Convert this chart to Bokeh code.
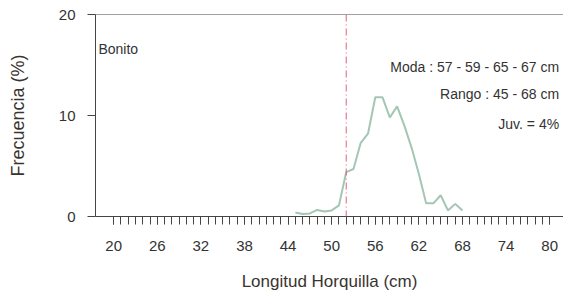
from bokeh.plotting import figure
from bokeh.models import Range1d, FixedTicker, Span, Label
from bokeh.embed import file_html
from bokeh.resources import INLINE

# ---- data ----
lengths = list(range(45, 69))
freq = [0.4, 0.25, 0.3, 0.65, 0.5, 0.6, 1.1, 4.4, 4.7, 7.3, 8.2, 11.8,
        11.8, 9.8, 10.9, 9.0, 6.8, 4.2, 1.3, 1.3, 2.1, 0.6, 1.25, 0.6]
x_ticks = list(range(20, 81, 6))
x_minor = list(range(20, 81))
y_ticks = [0, 10, 20]
juv_limit = 52
species = "Bonito"
notes = ["Moda : 57 - 59 - 65 - 67 cm", "Rango : 45 - 68 cm", "Juv. = 4%"]
note_y = [14.8, 12.15, 9.2]

FONT = "Liberation Sans"
TXT = "#333333"

p = figure(width=563, height=298, output_backend="svg", toolbar_location=None,
           x_range=Range1d(17.5, 81.9), y_range=Range1d(0, 20),
           min_border_left=95, min_border_right=0, min_border_top=14,
           min_border_bottom=82)
p.outline_line_color = None
p.xgrid.visible = False
p.ygrid.visible = False
p.background_fill_color = "white"
p.border_fill_color = "white"

# axes
xa = p.xaxis[0]
xa.ticker = FixedTicker(ticks=x_ticks, minor_ticks=x_minor)
xa.axis_label = "Longitud Horquilla (cm)"
ya = p.yaxis[0]
ya.ticker = FixedTicker(ticks=y_ticks, minor_ticks=[])
ya.axis_label = "Frecuencia (%)"
for ax in (xa, ya):
    ax.axis_line_color = "#444444"
    ax.major_tick_line_color = "#444444"
    ax.minor_tick_line_color = "#444444"
    ax.major_tick_out = 8
    ax.major_tick_in = 0
    ax.minor_tick_out = 8
    ax.minor_tick_in = 0
    ax.major_label_text_font = FONT
    ax.major_label_text_font_size = "15px"
    ax.major_label_text_color = TXT
    ax.axis_label_text_font = FONT
    ax.axis_label_text_font_style = "normal"
    ax.axis_label_text_color = "#3a3430"
xa.major_label_standoff = 16
xa.axis_label_standoff = 18
xa.axis_label_text_font_size = "17px"
ya.major_label_standoff = 12
ya.axis_label_text_font_size = "18px"
ya.axis_label_standoff = 28

# top border line
p.add_layout(Span(location=20, dimension="width", line_color="#444444", line_width=1))

# juvenile limit
p.add_layout(Span(location=juv_limit, dimension="height", line_color="#e0607a",
                  line_width=1, line_dash="7 3 1 3"))

# curve
p.line(lengths, freq, line_color="#a3c6b5", line_width=2)

# texts
p.add_layout(Label(x=17.9, y=16.6, text=species, text_align="left",
                   text_baseline="middle", text_font=FONT, text_font_size="14px",
                   text_color=TXT))
for t, yy in zip(notes, note_y):
    p.add_layout(Label(x=81.3, y=yy, text=t, text_align="right",
                       text_baseline="middle", text_font=FONT,
                       text_font_size="14px", text_color=TXT))

open("out.html", "w").write(file_html(p, INLINE))
